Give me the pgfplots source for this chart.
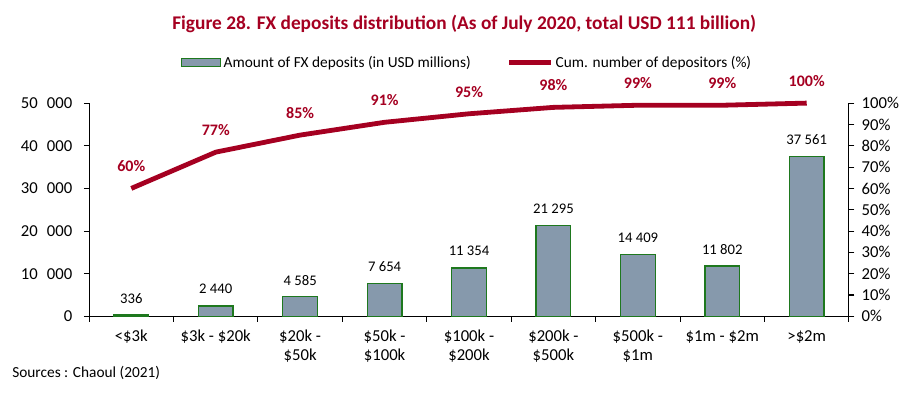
\documentclass[border=0pt]{standalone}
\usepackage{fontspec}
\setmainfont{Carlito}
\usepackage{pgfplots}
\pgfplotsset{compat=1.18}
\definecolor{barfill}{RGB}{134,153,172}
\definecolor{barline}{RGB}{30,120,30}
\definecolor{dred}{RGB}{165,0,33}
\pgfplotsset{
  barlegend/.style={legend image code/.code={\draw[##1] (0pt,-3pt) rectangle (29pt,3pt);}},
  linelegend/.style={legend image code/.code={\draw[##1] (0pt,0pt) -- (31pt,0pt);}},
}
\begin{document}
\begin{tikzpicture}
\useasboundingbox (-66.75pt,-57pt) rectangle (617.25pt,237pt);
\begin{axis}[
  at={(0,0)}, anchor=south west,
  scale only axis, width=569.25pt, height=159.75pt,
  xmin=-0.5, xmax=8.5, ymin=0, ymax=50000,
  axis x line*=bottom, axis y line*=left,
  axis line style={line width=0.8pt},
  tick style={line width=0.8pt, black},
  tick align=outside, major tick length=4pt,
  ytick={0,10000,...,50000},
  scaled y ticks=false,
  yticklabel style={font=\fontsize{12.5}{14}\selectfont, xshift=-5pt, /pgf/number format/.cd, 1000 sep={\hspace{0.55em}}, assume math mode=true},
  xtick={-0.5,0.5,...,8.5}, xticklabels={},
  extra x ticks={0,1,2,3,4,5,6,7,8},
  extra x tick labels={{<\$3k},{\$3k - \$20k},{\$20k -\\\$50k},{\$50k -\\\$100k},{\$100k -\\\$200k},{\$200k -\\\$500k},{\$500k -\\\$1m},{\$1m - \$2m},{>\$2m}},
  extra x tick style={tick style={draw=none}, xticklabel style={align=center, font=\fontsize{12.5}{13.5}\selectfont, yshift=-3pt}},
  ybar, bar width=26pt,
  nodes near coords={\pgfmathprintnumber[1000 sep={\ }, assume math mode=true]{\pgfplotspointmeta}},
  nodes near coords style={font=\fontsize{11}{12}\selectfont, black, anchor=center, yshift=12.5pt},
  clip=false,
]
\addplot[fill=barfill, draw=barline, line width=0.9pt] coordinates {
(0,336) (1,2440) (2,4585) (3,7654) (4,11354) (5,21295) (6,14409) (7,11802) (8,37561)};
\end{axis}
\begin{axis}[
  at={(0,0)}, anchor=south west,
  scale only axis, width=569.25pt, height=159.75pt,
  xmin=-0.5, xmax=8.5, ymin=0, ymax=100,
  axis x line=none, axis y line*=right,
  axis line style={line width=0.8pt},
  tick style={line width=0.8pt, black},
  tick align=outside, major tick length=4pt,
  ytick={0,10,...,100},
  yticklabel={\pgfmathprintnumber[assume math mode=true]{\tick}\%},
  yticklabel style={font=\fontsize{12.5}{14}\selectfont, xshift=2pt},
  clip=false,
  legend style={at={(0.498,1.19)}, anchor=center, draw=none, fill=none, legend columns=2,
    font=\fontsize{11.5}{13}\selectfont},
]
\addlegendimage{fill=barfill, draw=barline, line width=0.9pt, barlegend}
\addlegendentry{Amount of FX deposits (in USD millions)\rule{25pt}{0pt}}
\addplot[dred, line width=3.6pt, line join=round, linelegend,
  nodes near coords={\pgfmathprintnumber[assume math mode=true]{\pgfplotspointmeta}\%},
  nodes near coords style={font=\fontsize{12}{13}\bfseries\selectfont, dred, anchor=center, yshift=16.5pt}]
  coordinates {(0,60) (1,77) (2,85) (3,91) (4,95) (5,98) (6,99) (7,99) (8,100)};
\addlegendentry{Cum. number of depositors (\%)}
\end{axis}
\node[font=\fontsize{14.5}{16}\bfseries\selectfont, text=dred] at (281pt,219pt) {Figure 28. FX deposits distribution (As of July 2020, total USD 111 billion)};
\node[font=\fontsize{11.5}{13}\selectfont, anchor=west, inner sep=0pt] at (-57.75pt,-42.75pt) {Sources : Chaoul (2021)};
\end{tikzpicture}
\end{document}
